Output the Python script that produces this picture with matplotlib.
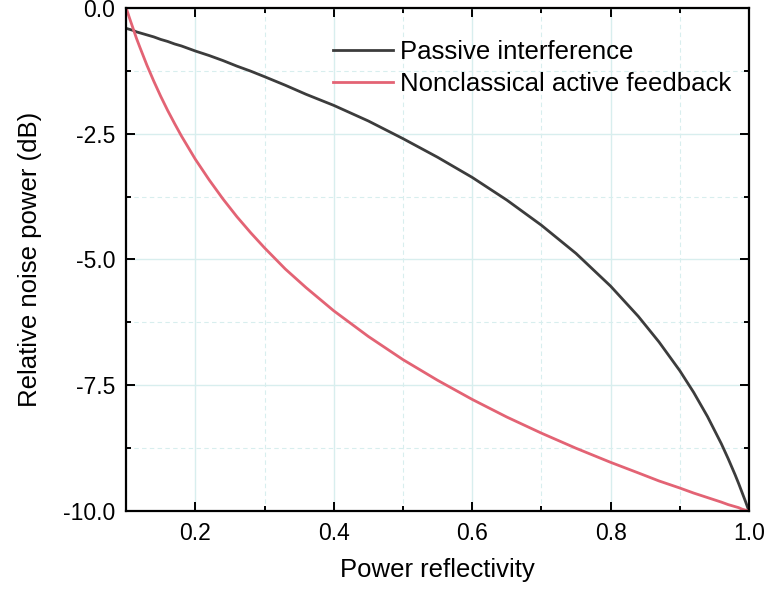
import matplotlib as mpl
mpl.use("Agg")
import matplotlib.pyplot as plt
from matplotlib.ticker import MultipleLocator

plt.rcParams["font.family"] = ["Liberation Sans", "DejaVu Sans"]
plt.rcParams["axes.unicode_minus"] = False

# values
reflectivity = [0.100, 0.105, 0.11, 0.115, 0.12, 0.13, 0.14, 0.15, 0.16, 0.17, 0.18,
                0.20, 0.22, 0.24, 0.26, 0.28, 0.30, 0.33, 0.36, 0.40, 0.45,
                0.50, 0.55, 0.60, 0.65, 0.70, 0.75, 0.80, 0.84, 0.87, 0.90,
                0.92, 0.94, 0.96, 0.97, 0.98, 0.985, 0.99, 0.995, 1.00]
passive = [-0.41, -0.43, -0.45, -0.48, -0.50, -0.54, -0.58, -0.63, -0.67, -0.72, -0.76,
           -0.86, -0.95, -1.05, -1.16, -1.26, -1.37, -1.54, -1.72, -1.94, -2.25,
           -2.60, -2.97, -3.37, -3.82, -4.32, -4.88, -5.53, -6.13, -6.64, -7.21,
           -7.64, -8.12, -8.66, -8.96, -9.28, -9.45, -9.63, -9.81, -10.0]
active = [0.0, -0.21, -0.41, -0.61, -0.79, -1.14, -1.46, -1.76, -2.04, -2.30, -2.55,
          -3.01, -3.42, -3.80, -4.15, -4.47, -4.77, -5.19, -5.56, -6.02, -6.53,
          -6.99, -7.40, -7.78, -8.13, -8.45, -8.75, -9.03, -9.24, -9.40, -9.54,
          -9.64, -9.73, -9.82, -9.87, -9.91, -9.93, -9.96, -9.98, -10.0]

fig = plt.figure(figsize=(7.69, 5.93), dpi=100)
ax = fig.add_axes([0.164, 0.138, 0.810, 0.849])

ax.plot(reflectivity, passive, color="#3c3c3c", lw=2.0, label="Passive interference")
ax.plot(reflectivity, active, color="#e36374", lw=2.0, label="Nonclassical active feedback")

ax.set_xlim(0.1, 1.0)
ax.set_ylim(-10.0, 0.0)
ax.xaxis.set_minor_locator(MultipleLocator(0.1))
ax.yaxis.set_major_locator(MultipleLocator(2.5))
ax.yaxis.set_minor_locator(MultipleLocator(1.25))
ax.set_xticks([0.2, 0.4, 0.6, 0.8, 1.0])
ax.set_xticklabels(["0.2", "0.4", "0.6", "0.8", "1.0"])

ax.grid(which="major", color="#d8eeee", lw=1.0, ls="-")
ax.grid(which="minor", color="#d8eeee", lw=0.8, ls=(0, (4, 3)))
ax.set_axisbelow(True)

ax.tick_params(which="both", direction="in", top=True, right=True, width=1.4, labelsize=16.5)
ax.tick_params(which="major", length=6.7, pad=8)
ax.tick_params(which="minor", length=3.6)
for s in ax.spines.values():
    s.set_linewidth(1.6)

ax.set_xlabel("Power reflectivity", fontsize=18.5, labelpad=9)
ax.set_ylabel("Relative noise power (dB)", fontsize=18.5, labelpad=15)

ax.legend(loc="upper left", bbox_to_anchor=(0.332, 0.936), frameon=False, fontsize=18.5,
          handlelength=2.33, handletextpad=0.27, labelspacing=0.32, borderpad=0, borderaxespad=0)

fig.savefig("out.png", dpi=100)
